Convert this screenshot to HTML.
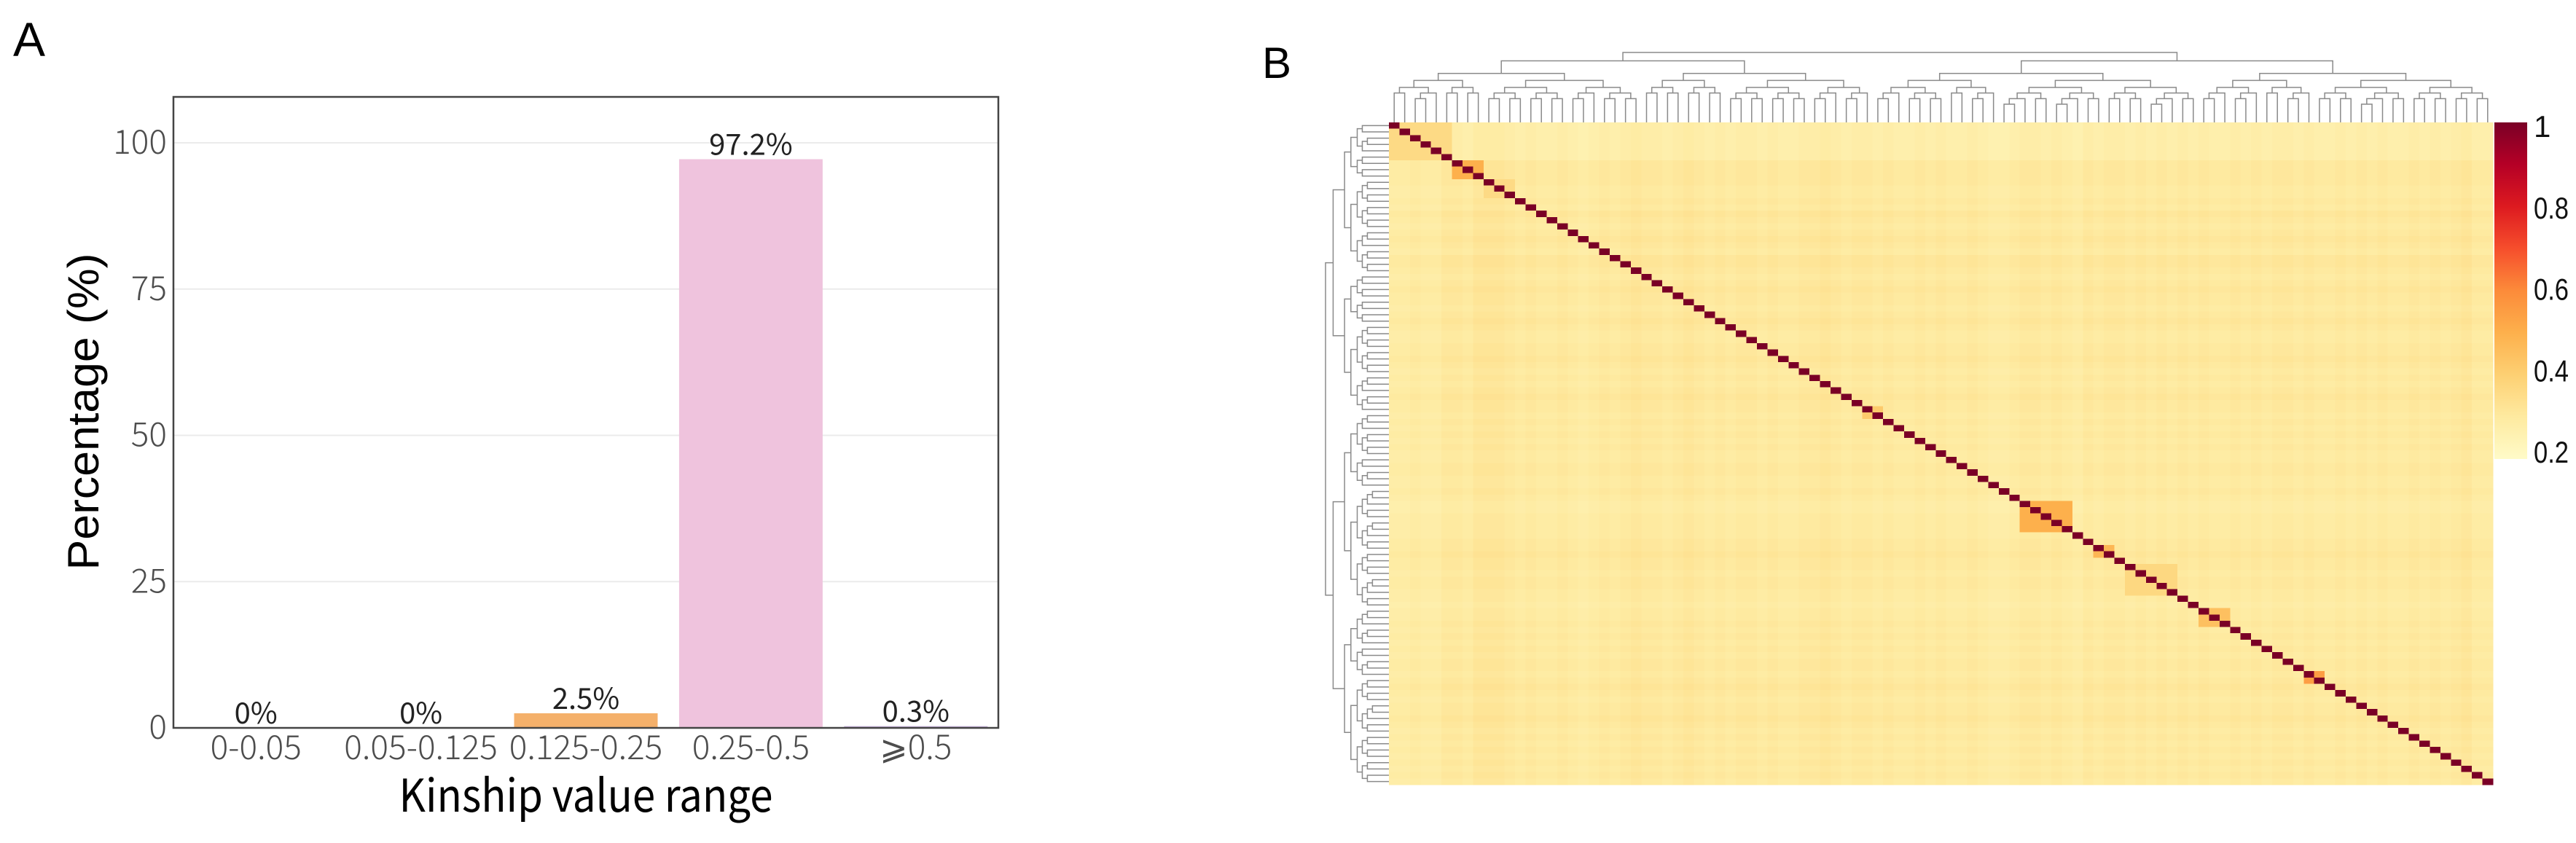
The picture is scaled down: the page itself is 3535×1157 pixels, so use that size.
<!DOCTYPE html>
<html><head><meta charset="utf-8"><style>
html,body{margin:0;padding:0;background:#fff;}
svg{display:block;}
</style></head><body>
<svg id="fig" width="3535" height="1157" viewBox="0 0 3535 1157" xmlns="http://www.w3.org/2000/svg">
<text x="18" y="77" font-family="Liberation Sans, sans-serif" font-size="66" fill="#000">A</text>
<text x="1732" y="107" font-family="Liberation Sans, sans-serif" font-size="60" fill="#000">B</text>
<g id="panelA"></g>
<g id="panelB"></g>
</svg>
<script>
// ---------- Panel A data ----------
const categories = ["0-0.05","0.05-0.125","0.125-0.25","0.25-0.5","\u2A7E0.5"];
const percentValues = [0, 0, 2.5, 97.2, 0.3];
const valueLabels = ["0%","0%","2.5%","97.2%","0.3%"];
const yTicks = [0, 25, 50, 75, 100];
const barColors = ["#F4B06A","#F4B06A","#F4B06A","#EFC3DD","#C9B3DD"];

// ---------- Panel B data ----------
const N = 105;
const baseKinship = 0.29;
const rowEffects = [-0.02,-0.02,-0.02,-0.02,-0.02,-0.02,0.01,0.01,0.01,0.01,
 0.00,0.00,0.01,0.00,0.02,0.01,0.00,0.01,0.02,0.01,
 0.00,0.02,0.02,0.01,0.00,0.01,0.02,0.01,0.01,0.00,
 0.01,0.02,0.01,0.00,0.00,0.01,0.01,0.02,0.01,0.00,
 0.01,0.00,0.01,0.02,0.01,0.01,0.00,0.01,0.00,0.01,
 0.00,0.01,0.00,0.00,0.01,0.01,0.00,0.00,0.01,0.00,
 -0.01,-0.01,0.00,0.00,0.00,0.00,0.01,0.01,0.02,0.01,
 0.01,0.00,0.01,0.01,0.00,0.00,-0.01,0.00,0.00,0.01,
 0.00,0.01,0.00,0.01,0.00,0.01,0.01,0.00,0.01,0.02,
 0.01,0.00,0.01,0.01,0.02,0.01,0.00,0.01,0.00,0.01,
 0.00,0.01,0.00,0.01,0.00];
const colEffects = [-0.01,-0.01,0.00,-0.01,-0.01,0.01,0.01,0.00,0.02,0.02,
 0.02,0.01,0.00,0.01,0.00,0.00,0.01,0.00,-0.01,0.00,
 0.01,0.00,0.01,0.02,0.01,0.01,0.00,0.01,0.02,0.01,
 0.00,0.01,0.00,0.01,0.01,0.00,0.01,0.00,0.00,0.01,
 0.01,0.02,0.01,0.00,0.01,0.01,0.00,0.01,0.00,0.00,
 0.01,0.00,0.01,0.00,0.00,0.01,0.00,-0.01,-0.01,0.00,
 0.01,0.01,0.00,0.01,0.00,-0.01,0.01,0.00,0.01,0.01,
 0.00,0.01,0.00,0.01,0.00,0.01,0.00,0.01,0.00,0.00,
 0.01,0.00,0.01,0.00,0.01,0.01,0.00,0.01,0.00,0.00,
 0.01,0.00,0.01,0.00,0.01,0.00,0.00,0.01,0.00,0.01,
 0.00,0.01,0.02,0.00,0.00];
const blockStarts = [0, 6, 9, 45, 60, 67, 70, 77, 87];
const blockEnds   = [5, 8, 11, 46, 64, 68, 74, 79, 88];
const blockValues = [0.36, 0.5, 0.36, 0.42, 0.5, 0.48, 0.37, 0.45, 0.55];
const colorStopValues = [0.2, 0.3, 0.4, 0.5, 0.6, 0.7, 0.8, 0.9, 1.0];
const colorStopColors = ["#FFFBC8","#FEEAA0","#FDD073","#FDB04C","#FC8B3A","#F64E2C","#DD1A20","#B50026","#7A0026"];
const legendTicks = [0.2, 0.4, 0.6, 0.8, 1];
const legendTickLabels = ["0.2","0.4","0.6","0.8","1"];
const dendroSplitFractions = [0.44,0.52,0.38,0.55,0.47,0.6,0.5,0.42,0.57,0.5];
const dendroLevelHeights = [1.0,0.88,0.7,0.6,0.5,0.42,0.34,0.26,0.2,0.14,0.1,0.07];

const NS = "http://www.w3.org/2000/svg";
function mk(tag, attrs, parent){const e=document.createElementNS(NS,tag);for(const k in attrs)e.setAttribute(k,attrs[k]);parent.appendChild(e);return e;}

// ---------- Panel A ----------
(function(){
  const g = document.getElementById('panelA');
  const L=238, R=1370, T=133, B=999;
  const yScale = v => 999 - v*(999-196)/100;
  const band = (R-L)/categories.length;
  const xCenter = i => L + band*(i+0.5);
  const barW = band*0.87;
  yTicks.forEach(t=>{
    if(t>0){
      const gl = mk('line',{x1:L,x2:R,y1:yScale(t),y2:yScale(t),stroke:'#EBEBEB','stroke-width':2},g);
      
      
    }
    const tl = mk('text',{x:229,y:yScale(t)+15,'text-anchor':'end','font-family':'Noto Sans CJK SC, sans-serif','font-weight':'300','font-size':46,fill:'#4D4D4D'},g);
    tl.textContent = t;
    
    
  });
  categories.forEach((c,i)=>{
    const v = percentValues[i];
    if(v>0){
      const r = mk('rect',{x:xCenter(i)-barW/2,y:yScale(v),width:barW,height:B-yScale(v),fill:barColors[i]},g);
      
      
    }
    const vl = mk('text',{x:xCenter(i),y:yScale(v)-6,'text-anchor':'middle','font-family':'Noto Sans CJK SC, sans-serif','font-size':40,fill:'#222'},g);
    vl.textContent = valueLabels[i];
    
    
    const xl = mk('text',{x:xCenter(i),y:1042,'text-anchor':'middle','font-family':'Noto Sans CJK SC, sans-serif','font-weight':'300','font-size':46,fill:'#4D4D4D'},g);
    xl.textContent = c;
    
    
  });
  const box = mk('rect',{x:L,y:T,width:R-L,height:B-T,fill:'none',stroke:'#444','stroke-width':2.5},g);
  
  
  const xt = mk('text',{x:804,y:1114,'text-anchor':'middle','font-family':'Noto Sans CJK SC, sans-serif','font-size':62,fill:'#000',textLength:513,lengthAdjust:'spacingAndGlyphs'},g);
  xt.textContent='Kinship value range';
  
  
  const yt = mk('text',{x:0,y:0,'text-anchor':'middle','font-family':'Liberation Sans, sans-serif','font-size':60,fill:'#000',textLength:435,lengthAdjust:'spacingAndGlyphs',transform:'translate(135,565) rotate(-90)'},g);
  yt.textContent='Percentage (%)';
  
  
})();

// ---------- Panel B ----------
(function(){
  const g = document.getElementById('panelB');
  const HL=1906, HR=3421, HT=168, HB=1077;
  const cw=(HR-HL)/N, ch=(HB-HT)/N;
  function hex(h){return [parseInt(h.substr(1,2),16),parseInt(h.substr(3,2),16),parseInt(h.substr(5,2),16)];}
  function color(v){
    if(v<=colorStopValues[0]) return colorStopColors[0];
    for(let k=1;k<colorStopValues.length;k++){
      if(v<=colorStopValues[k]){
        const t=(v-colorStopValues[k-1])/(colorStopValues[k]-colorStopValues[k-1]);
        const a=hex(colorStopColors[k-1]), b=hex(colorStopColors[k]);
        return 'rgb('+a.map((x,i)=>Math.round(x+(b[i]-x)*t)).join(',')+')';
      }
    }
    return colorStopColors[colorStopColors.length-1];
  }
  function value(i,j){
    if(i===j) return 1;
    for(let b=0;b<blockStarts.length;b++){
      if(i>=blockStarts[b]&&i<=blockEnds[b]&&j>=blockStarts[b]&&j<=blockEnds[b]) return blockValues[b];
    }
    return baseKinship+rowEffects[i]+colEffects[j];
  }
  const cells = mk('g',{'shape-rendering':'crispEdges'},g);
  
  
  for(let i=0;i<N;i++){
    for(let j=0;j<N;j++){
      const r = mk('rect',{x:(HL+j*cw).toFixed(2),y:(HT+i*ch).toFixed(2),width:(cw+0.6).toFixed(2),height:(ch+0.6).toFixed(2),fill:color(value(i,j))},cells);
      
      
    }
  }
  function build(a,b,depth){
    if(b-a===1) return {pos:a+0.5,h:0};
    const f = dendroSplitFractions[depth%dendroSplitFractions.length];
    let m = a+Math.max(1,Math.min(b-a-1,Math.round((b-a)*f)));
    const l=build(a,m,depth+1), r=build(m,b,depth+1);
    const h = dendroLevelHeights[Math.min(depth,dendroLevelHeights.length-1)];
    return {pos:(l.pos+r.pos)/2,h:h,l:l,r:r};
  }
  const tree = build(0,N,0);
  const dTop = mk('g',{stroke:'#8A8A8A','stroke-width':1.5,fill:'none'},g);
  
  
  const dLeft = mk('g',{stroke:'#8A8A8A','stroke-width':1.5,fill:'none'},g);
  
  
  function drawTop(n){
    if(!n.l) return;
    const X=p=>HL+p*cw, Y=h=>HT-h*96;
    mk('path',{d:`M${X(n.l.pos)},${Y(n.l.h)}V${Y(n.h)}H${X(n.r.pos)}V${Y(n.r.h)}`},dTop);
    drawTop(n.l);drawTop(n.r);
  }
  function drawLeft(n){
    if(!n.l) return;
    const Y=p=>HT+p*ch, X=h=>HL-h*87;
    mk('path',{d:`M${X(n.l.h)},${Y(n.l.pos)}H${X(n.h)}V${Y(n.r.pos)}H${X(n.r.h)}`},dLeft);
    drawLeft(n.l);drawLeft(n.r);
  }
  drawTop(tree);drawLeft(tree);
  const defs = mk('defs',{},g);
  const grad = mk('linearGradient',{id:'cbar',x1:0,y1:1,x2:0,y2:0},defs);
  colorStopValues.forEach((v,k)=>{mk('stop',{offset:((v-0.2)/0.8),'stop-color':colorStopColors[k]},grad);});
  const ly = v => 620 - (v-0.2)*(620-173)/0.8;
  const cb = mk('rect',{x:3423,y:ly(1)-5,width:45,height:ly(0.2)+10-(ly(1)-5),fill:'url(#cbar)'},g);
  
  
  legendTicks.forEach((t,k)=>{
    const lbl = legendTickLabels[k];
    const attrs = {x:3477,y:ly(t)+15,'font-family':'Liberation Sans, sans-serif','font-size':42,fill:'#111'};
    if(lbl.length>1){attrs.textLength=48;attrs.lengthAdjust='spacingAndGlyphs';}
    const tx = mk('text',attrs,g);
    tx.textContent = lbl;
    
    
  });
})();
</script>
</body></html>
